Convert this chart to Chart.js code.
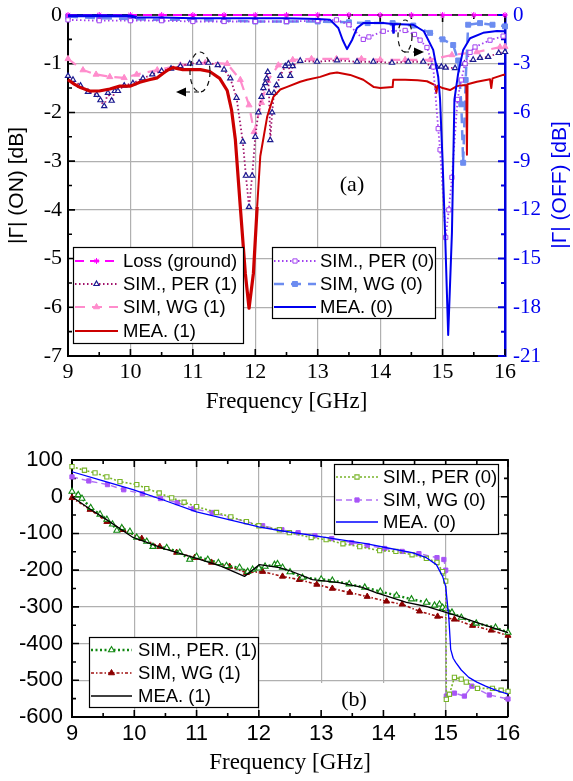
<!DOCTYPE html>
<html><head><meta charset="utf-8">
<script src="https://cdn.jsdelivr.net/npm/chart.js@4.4.1/dist/chart.umd.min.js"></script>
<style>
html,body{margin:0;padding:0;background:#fff;width:573px;height:781px;overflow:hidden}
#ca{position:absolute;left:0;top:0}
#cb{position:absolute;left:0;top:420px}
</style></head><body>
<canvas id="ca" width="573" height="420"></canvas>
<canvas id="cb" width="573" height="361"></canvas>
<script>
// ---------------- Panel (a): |Gamma| in dB ----------------
const aLossX = [9,9.5,10,10.5,11,11.5,12,12.5,13,13.5,14,14.5,15,15.5,16];
const aLossY = [0,0,0,0,0,0,0,0,0,0,0,0,0,0,0];

const aPer1X = [9.0,9.08,9.2,9.32,9.46,9.52,9.58,9.64,9.7,9.75,9.8,9.9,10.04,10.2,10.35,10.5,10.65,10.8,10.95,11.1,11.25,11.4,11.5,11.6,11.7,11.8,11.85,11.9,11.95,12.0,12.05,12.1,12.13,12.16,12.18,12.2,12.22,12.24,12.27,12.3,12.34,12.4,12.48,12.53,12.56,12.6,12.72,12.99,13.31,13.63,13.89,14.19,14.45,14.69,14.83,14.9,14.98,15.05,15.2,15.35,15.49,15.6,15.73,15.9,16.0];
const aPer1Y = [-1.25,-1.33,-1.45,-1.58,-1.64,-1.75,-1.87,-1.6,-1.76,-1.56,-1.56,-1.45,-1.4,-1.3,-1.22,-1.15,-1.1,-1.05,-1.0,-0.98,-0.98,-1.03,-1.12,-1.3,-1.7,-2.6,-3.3,-3.94,-3.3,-2.5,-2.0,-1.68,-1.5,-1.4,-1.3,-1.17,-1.6,-2.57,-2.0,-1.6,-1.44,-1.25,-1.05,-1.0,-1.25,-1.05,-0.94,-0.96,-0.93,-0.96,-0.96,-0.98,-0.96,-0.96,-1.06,-1.06,-1.06,-1.08,-1.09,-1.0,-0.92,-0.88,-0.86,-0.78,-0.76];

const aWg1X = [9.0,9.24,9.45,9.67,9.9,10.1,10.43,10.8,11.2,11.55,11.76,11.9,11.98,12.1,12.2,12.37,12.6,12.9,13.3,13.7,14.0,14.4,14.8,15.15,15.55,15.92,16.0];
const aWg1Y = [-0.9,-1.13,-1.22,-1.27,-1.29,-1.22,-1.13,-1.03,-0.98,-1.0,-1.33,-1.85,-2.4,-1.8,-1.35,-1.03,-0.92,-0.9,-0.9,-0.9,-0.92,-0.92,-0.92,-0.82,-0.76,-0.66,-0.65];

const aMea1X = [9.0,9.1,9.2,9.35,9.5,9.67,9.83,10.0,10.15,10.3,10.43,10.52,10.6,10.68,10.84,11.0,11.12,11.27,11.43,11.55,11.62,11.68,11.76,11.84,11.9,11.97,12.03,12.08,12.19,12.29,12.4,12.5,12.72,12.83,13.04,13.2,13.31,13.52,13.73,13.9,14.0,14.2,14.21,14.4,14.6,14.75,14.88,14.9,14.92,15.0,15.12,15.23,15.33,15.38,15.39,15.4,15.55,15.76,15.78,15.8,15.97,16.0];
const aMea1Y = [-1.33,-1.42,-1.49,-1.56,-1.56,-1.52,-1.46,-1.46,-1.38,-1.33,-1.29,-1.2,-1.13,-1.08,-1.12,-1.12,-1.12,-1.16,-1.3,-1.55,-1.95,-2.55,-3.94,-5.3,-6.02,-5.3,-3.94,-2.9,-2.09,-1.68,-1.53,-1.48,-1.37,-1.33,-1.27,-1.2,-1.18,-1.23,-1.33,-1.48,-1.5,-1.48,-1.33,-1.33,-1.34,-1.36,-1.44,-1.6,-1.45,-1.5,-1.54,-1.46,-1.44,-1.44,-2.87,-1.42,-1.37,-1.32,-1.5,-1.3,-1.23,-1.22];

const aPer0X = [9.0,9.5,10.0,10.5,11.0,11.5,12.0,12.5,13.0,13.3,13.5,13.73,13.82,14.05,14.4,14.55,14.64,14.75,14.85,14.93,14.96,15.05,15.1,15.15,15.24,15.3,15.36,15.44,15.52,15.76,15.97];
const aPer0Y = [-0.3,-0.35,-0.35,-0.35,-0.4,-0.4,-0.4,-0.4,-0.35,-0.3,-0.6,-1.5,-1.35,-1.0,-0.95,-1.2,-1.55,-2.0,-3.2,-7.0,-8.3,-13.7,-12.0,-10.0,-5.2,-4.0,-3.0,-2.3,-1.97,-1.55,-1.3];

const aWg0X = [9.0,9.5,10.0,10.5,11.0,11.5,12.0,12.5,13.0,13.5,13.8,14.2,14.53,14.8,15.0,15.17,15.25,15.3,15.33,15.37,15.41,15.6,15.8,16.0];
const aWg0Y = [-0.1,-0.2,-0.25,-0.3,-0.3,-0.35,-0.4,-0.4,-0.4,-0.45,-0.5,-0.5,-0.65,-1.1,-1.5,-1.85,-2.8,-5.5,-9.1,-4.0,-0.6,-0.5,-0.6,-0.7];

const aMea0X = [9.0,9.5,10.0,10.1,10.5,11.0,11.5,12.0,12.5,13.0,13.2,13.33,13.4,13.47,13.55,13.63,13.73,14.05,14.2,14.21,14.22,14.53,14.7,14.85,14.93,14.96,15.0,15.04,15.09,15.15,15.19,15.25,15.33,15.44,15.65,15.87,16.0];
const aMea0Y = [-0.05,-0.05,-0.06,-0.15,-0.15,-0.2,-0.2,-0.2,-0.2,-0.25,-0.3,-0.8,-1.54,-2.1,-1.54,-0.8,-0.5,-0.5,-0.55,-1.1,-0.55,-0.6,-1.0,-2.15,-3.8,-5.2,-9.0,-13.4,-19.7,-13.4,-5.2,-3.6,-2.15,-1.43,-1.1,-0.99,-1.0];

// ---------------- Panel (b): phase in degrees ----------------
const bPer0X = [9.0,9.2,9.37,9.56,9.77,10.04,10.2,10.4,10.6,10.8,11.0,11.32,11.55,11.8,12.0,12.33,12.49,12.84,13.08,13.35,13.62,13.94,14.2,14.46,14.69,14.86,14.95,15.0,15.01,15.06,15.14,15.25,15.33,15.51,15.75,15.89,16.0];
const bPer0Y = [82,72,65,54,41,33,22,10,-3,-15,-27,-43,-55,-68,-79,-90,-98,-111,-117,-128,-136,-147,-149,-158,-168,-179,-204,-230,-552,-538,-492,-497,-505,-522,-522,-527,-530];

const bWg0X = [9.0,9.27,9.57,9.83,10.13,10.42,10.69,10.95,11.25,11.54,11.8,12.06,12.37,12.63,12.9,13.17,13.49,13.74,14.02,14.3,14.57,14.86,14.97,15.0,15.01,15.14,15.3,15.42,15.7,16.0];
const bWg0Y = [54,43,33,19,8,-5,-16,-33,-43,-57,-68,-79,-90,-98,-106,-114,-125,-133,-141,-149,-155,-166,-171,-200,-543,-535,-543,-516,-540,-551];

const bMea0X = [9.0,9.5,9.98,10.5,11.0,11.5,12.0,12.33,12.8,13.3,13.72,14.05,14.46,14.69,14.85,14.95,15.0,15.05,15.08,15.12,15.16,15.25,15.37,15.5,15.64,15.8,16.0];
const bMea0Y = [68,43,19,-11,-41,-62,-82,-92,-104,-117,-128,-139,-152,-166,-185,-217,-245,-330,-416,-440,-451,-472,-492,-505,-516,-527,-538];

const bPer1X = [9.0,9.1,9.16,9.3,9.45,9.56,9.65,9.72,9.8,9.93,10.04,10.2,10.3,10.52,10.73,10.89,11.0,11.18,11.35,11.48,11.69,11.82,11.9,12.0,12.1,12.25,12.3,12.38,12.5,12.7,13.0,13.18,13.45,13.7,13.95,14.21,14.45,14.69,14.82,14.9,14.95,15.0,15.1,15.25,15.49,15.8,16.0];
const bPer1Y = [14,5,-5,-30,-48,-62,-75,-92,-85,-95,-111,-122,-136,-139,-152,-171,-163,-171,-180,-188,-193,-204,-198,-195,-190,-185,-183,-193,-205,-220,-225,-228,-238,-247,-258,-269,-279,-288,-296,-293,-302,-305,-315,-329,-345,-356,-370];

const bWg1X = [9.0,9.29,9.56,9.82,10.12,10.41,10.68,10.97,11.24,11.53,11.8,12.06,12.38,12.65,12.93,13.18,13.46,13.74,14.05,14.3,14.58,14.87,15.14,15.43,15.73,16.0];
const bWg1Y = [-3,-35,-68,-90,-114,-136,-152,-166,-179,-190,-207,-204,-217,-226,-239,-250,-261,-272,-285,-293,-312,-326,-334,-351,-364,-378];

const bMea1X = [9.0,9.3,9.56,9.98,10.5,11.0,11.4,11.77,12.01,12.33,12.49,12.86,13.29,13.66,13.88,14.37,14.69,14.95,15.2,15.49,16.0];
const bMea1Y = [0,-35,-63,-111,-143,-168,-190,-217,-185,-193,-201,-226,-234,-247,-261,-288,-299,-312,-325,-342,-370];

const labelsA = ['Loss (ground)','SIM., PER (1)','SIM, WG (1)','MEA. (1)','SIM., PER (0)','SIM, WG (0)','MEA. (0)'];
const labelsB = ['SIM., PER (0)','SIM, WG (0)','MEA. (0)','SIM., PER. (1)','SIM, WG (1)','MEA. (1)'];

function pts(xs, ys){ return xs.map((x,i)=>({x:x,y:ys[i]})); }

const SERIF = "'Liberation Serif', 'Times New Roman', serif";
const SANS = "'Liberation Sans', Arial, sans-serif";

function noPad(s){ s.paddingTop=0; s.paddingBottom=0; s.paddingLeft=0; s.paddingRight=0; }

// frame + inward ticks
function inwardTicks(ctx, scale, side, area, color, lw, major, minor){
  const vals = scale.ticks.map(t=>t.value);
  const all = [];
  vals.forEach(v=>all.push([v,major]));
  for(let i=0;i<vals.length-1;i++) all.push([(vals[i]+vals[i+1])/2, minor]);
  ctx.save(); ctx.strokeStyle=color; ctx.lineWidth=lw; ctx.beginPath();
  all.forEach(([v,len])=>{
    const p = scale.getPixelForValue(v);
    if(side==='bottom'){ctx.moveTo(p,area.bottom);ctx.lineTo(p,area.bottom-len);}
    if(side==='top'){ctx.moveTo(p,area.top);ctx.lineTo(p,area.top+len);}
    if(side==='left'){ctx.moveTo(area.left,p);ctx.lineTo(area.left+len,p);}
    if(side==='right'){ctx.moveTo(area.right,p);ctx.lineTo(area.right-len,p);}
  });
  ctx.stroke(); ctx.restore();
}

function drawLegendBox(chart, box){
  const ctx = chart.ctx;
  ctx.save();
  ctx.fillStyle='#fff'; ctx.fillRect(box.x,box.y,box.w,box.h);
  ctx.strokeStyle='#000'; ctx.lineWidth=1.2; ctx.setLineDash([]);
  ctx.strokeRect(box.x+0.5,box.y+0.5,box.w,box.h);
  box.items.forEach((di,k)=>{
    const ds = chart.data.datasets[di];
    const y = box.rows[k];
    ctx.save();
    ctx.strokeStyle = ds.borderColor; ctx.lineWidth = Math.min(ds.borderWidth,2.5);
    ctx.setLineDash(ds.borderDash||[]);
    ctx.beginPath(); ctx.moveTo(box.l0,y); ctx.lineTo(box.l1,y); ctx.stroke();
    ctx.setLineDash([]);
    if(ds.pointRadius>0){
      ctx.fillStyle = ds.pointBackgroundColor; ctx.strokeStyle = ds.pointBorderColor; ctx.lineWidth = ds.pointBorderWidth||1;
      Chart.helpers.drawPoint(ctx,{pointStyle:ds.pointStyle,radius:ds.pointRadius,rotation:0,borderWidth:ds.pointBorderWidth||1},(box.l0+box.l1)/2,y);
    }
    ctx.restore();
    ctx.fillStyle='#000'; ctx.font=box.font; ctx.textBaseline='middle'; ctx.textAlign='left';
    ctx.fillText(ds.label, box.tx, y+1);
  });
  ctx.restore();
}

function ds(label, xs, ys, o){
  return Object.assign({label:label, data:pts(xs,ys), borderColor:'#000', borderWidth:1.5, pointRadius:0, tension:0, fill:false, pointHitRadius:0, borderJoinStyle:'round', clip:6}, o);
}

// ---------------- Chart (a) ----------------
const plugA = {
  id:'plugA',
  beforeDatasetsDraw(chart){
    const {ctx, chartArea:a, scales} = chart;
    ctx.save(); ctx.strokeStyle='#000'; ctx.lineWidth=1.5;
    ctx.beginPath(); ctx.moveTo(a.left,a.top); ctx.lineTo(a.right,a.top); ctx.stroke(); ctx.restore();
    inwardTicks(ctx, scales.x, 'bottom', a, '#000', 1.6, 7, 4);
    inwardTicks(ctx, scales.x, 'top', a, '#000', 1.6, 7, 4);
    inwardTicks(ctx, scales.y, 'left', a, '#000', 1.6, 7, 4);
    inwardTicks(ctx, scales.y2, 'right', a, '#0000dd', 2, 7, 4);
  },
  afterDatasetsDraw(chart){
    const ctx = chart.ctx;
    ctx.save();
    ctx.strokeStyle='#111'; ctx.lineWidth=1.2; ctx.setLineDash([5,4]);
    ctx.beginPath(); ctx.ellipse(200,72,10,20,0,0,Math.PI*2); ctx.stroke();
    ctx.beginPath(); ctx.moveTo(199,92); ctx.lineTo(184,92); ctx.stroke();
    ctx.beginPath(); ctx.ellipse(405,36,7,16,0,0,Math.PI*2); ctx.stroke();
    ctx.beginPath(); ctx.moveTo(404,52); ctx.lineTo(416,52); ctx.stroke();
    ctx.setLineDash([]); ctx.fillStyle='#000';
    ctx.beginPath(); ctx.moveTo(176,92); ctx.lineTo(186,87.5); ctx.lineTo(186,96.5); ctx.closePath(); ctx.fill();
    ctx.beginPath(); ctx.moveTo(424,52); ctx.lineTo(414,47.5); ctx.lineTo(414,56.5); ctx.closePath(); ctx.fill();
    // panel label
    ctx.font = '22px '+SERIF; ctx.textAlign='center'; ctx.textBaseline='middle';
    ctx.fillText('(a)', 352, 185);
    ctx.restore();
    drawLegendBox(chart,{x:73,y:247,w:170,h:96,rows:[261,284,307,331],l0:75,l1:118,tx:123,font:'18.5px '+SANS,items:[0,1,2,3]});
    drawLegendBox(chart,{x:272,y:247,w:163,h:71,rows:[261,284,307],l0:274,l1:316,tx:320,font:'18.5px '+SANS,items:[4,5,6]});
    // right axis title (reads bottom to top)
    ctx.save();
    ctx.translate(560,185); ctx.rotate(-Math.PI/2);
    ctx.font='21px '+SANS; ctx.fillStyle='#0000ee'; ctx.textAlign='center'; ctx.textBaseline='middle';
    ctx.fillText('|\u0393| (OFF) [dB]',0,0);
    ctx.restore();
  }
};

new Chart(document.getElementById('ca'), {
  type:'line',
  data:{datasets:[
    ds(labelsA[0], aLossX, aLossY, {yAxisID:'y', borderColor:'#ff00ff', borderWidth:2, borderDash:[9,6], pointRadius:3, pointStyle:'star', pointBorderColor:'#ff00ff', pointBackgroundColor:'#ff00ff', pointBorderWidth:1, order:1}),
    ds(labelsA[1], aPer1X, aPer1Y, {yAxisID:'y', borderColor:'#a0106a', borderWidth:1.8, borderDash:[1.5,2.5], pointRadius:3, pointStyle:'triangle', pointBorderColor:'#1a1a90', pointBackgroundColor:'#ffffff', pointBorderWidth:1.2, order:5}),
    ds(labelsA[2], aWg1X, aWg1Y, {yAxisID:'y', borderColor:'#ff8ccc', borderWidth:2.2, borderDash:[10,7], pointRadius:3.5, pointStyle:'triangle', pointBorderColor:'#ff8ccc', pointBackgroundColor:'#ff8ccc', pointBorderWidth:1, order:6}),
    ds(labelsA[3], aMea1X, aMea1Y, {yAxisID:'y', borderColor:'#cc0000', borderWidth:2, segment:{borderWidth:c=>c.p0.parsed.x<11.98?3.2:2}, order:3}),
    ds(labelsA[4], aPer0X, aPer0Y, {yAxisID:'y2', borderColor:'#a040f0', borderWidth:1.8, borderDash:[1.5,2.5], pointRadius:3, pointStyle:'rect', pointBorderColor:'#a040f0', pointBackgroundColor:'#ffffff', pointBorderWidth:1, order:2}),
    ds(labelsA[5], aWg0X, aWg0Y, {yAxisID:'y2', borderColor:'#6c8cf0', borderWidth:2.5, borderDash:[10,7], pointRadius:3.5, pointStyle:'rect', pointBorderColor:'#6c8cf0', pointBackgroundColor:'#6c8cf0', pointBorderWidth:1, order:4}),
    ds(labelsA[6], aMea0X, aMea0Y, {yAxisID:'y2', borderColor:'#0000ee', borderWidth:2, segment:{borderWidth:c=>c.p0.parsed.x<10.05?3:2}, order:0})
  ]},
  options:{
    responsive:false, animation:false, devicePixelRatio:1, events:[],
    layout:{padding:{top:15,left:0,right:0,bottom:0}},
    plugins:{legend:{display:false}, tooltip:{enabled:false}},
    scales:{
      x:{type:'linear', min:9, max:16, ticks:{stepSize:1, font:{family:SERIF,size:22}, color:'#000', padding:3, maxRotation:0},
         grid:{color:'#b0b0b0', lineWidth:1.2, drawTicks:false}, border:{color:'#000', width:2},
         title:{display:true, text:'Frequency [GHz]', font:{family:SERIF,size:23}, color:'#000', padding:{top:0,bottom:4}},
         afterFit:s=>{s.height=64; noPad(s);}},
      y:{type:'linear', position:'left', min:-7, max:0, ticks:{stepSize:1, font:{family:SERIF,size:22}, color:'#000', padding:6},
         grid:{color:'#b0b0b0', lineWidth:1.2, drawTicks:false}, border:{color:'#000', width:2},
         title:{display:true, text:'|\u0393| (ON) [dB]', font:{family:SANS,size:21}, color:'#000', padding:{top:5,bottom:0}},
         afterFit:s=>{s.width=68; noPad(s);}},
      y2:{type:'linear', position:'right', min:-21, max:0, ticks:{stepSize:3, font:{family:SERIF,size:21}, color:'#0000ee', padding:8},
         grid:{drawOnChartArea:false, drawTicks:false}, border:{color:'#0000dd', width:2.5},
         afterFit:s=>{s.width=68; noPad(s);}}
    }
  },
  plugins:[plugA]
});

// ---------------- Chart (b) ----------------
const plugB = {
  id:'plugB',
  beforeDatasetsDraw(chart){
    const {ctx, chartArea:a, scales} = chart;
    ctx.save(); ctx.fillStyle='#fff'; ctx.fillRect(313,263,82,33); ctx.restore();
    ctx.save(); ctx.strokeStyle='#000'; ctx.lineWidth=1.8;
    ctx.beginPath(); ctx.moveTo(a.left,a.top); ctx.lineTo(a.right,a.top); ctx.lineTo(a.right,a.bottom); ctx.stroke(); ctx.restore();
    inwardTicks(ctx, scales.x, 'bottom', a, '#000', 1.6, 7, 4);
    inwardTicks(ctx, scales.x, 'top', a, '#000', 1.6, 7, 4);
    inwardTicks(ctx, scales.y, 'left', a, '#000', 1.6, 7, 4);
    inwardTicks(ctx, scales.y, 'right', a, '#000', 1.6, 7, 4);
  },
  afterDatasetsDraw(chart){
    const ctx = chart.ctx;
    ctx.save();
    ctx.font = '22px '+SERIF; ctx.textAlign='center'; ctx.textBaseline='middle'; ctx.fillStyle='#000';
    ctx.fillText('(b)', 354, 280);
    ctx.restore();
    drawLegendBox(chart,{x:334,y:44,w:164,h:70,rows:[57,80,102],l0:336,l1:378,tx:383,font:'18.5px '+SANS,items:[0,1,2]});
    drawLegendBox(chart,{x:89,y:217,w:169,h:70,rows:[230,253,276],l0:91,l1:132,tx:138,font:'18.5px '+SANS,items:[3,4,5]});
  }
};

new Chart(document.getElementById('cb'), {
  type:'line',
  data:{datasets:[
    ds(labelsB[0], bPer0X, bPer0Y, {borderColor:'#78b428', borderWidth:1.6, borderDash:[2,2], pointRadius:3, pointStyle:'rect', pointBorderColor:'#78b428', pointBackgroundColor:'#ffffff', pointBorderWidth:1.1, order:2}),
    ds(labelsB[1], bWg0X, bWg0Y, {borderColor:'#b070f5', borderWidth:1.4, borderDash:[6,4], pointRadius:3, pointStyle:'rect', pointBorderColor:'#a855f7', pointBackgroundColor:'#a855f7', pointBorderWidth:1, order:3}),
    ds(labelsB[2], bMea0X, bMea0Y, {borderColor:'#0000ff', borderWidth:1.3, order:1}),
    ds(labelsB[3], bPer1X, bPer1Y, {borderColor:'#118811', borderWidth:2.4, borderDash:[2,2.5], pointRadius:3.5, pointStyle:'triangle', pointBorderColor:'#118811', pointBackgroundColor:'#ffffff', pointBorderWidth:1.1, order:4}),
    ds(labelsB[4], bWg1X, bWg1Y, {borderColor:'#a01010', borderWidth:1.6, borderDash:[3,2,1.5,2], pointRadius:3.5, pointStyle:'triangle', pointBorderColor:'#8b0000', pointBackgroundColor:'#8b0000', pointBorderWidth:1, order:5}),
    ds(labelsB[5], bMea1X, bMea1Y, {borderColor:'#000000', borderWidth:1.3, order:0})
  ]},
  options:{
    responsive:false, animation:false, devicePixelRatio:1, events:[],
    layout:{padding:{top:40,left:0,right:65,bottom:0}},
    plugins:{legend:{display:false}, tooltip:{enabled:false}},
    scales:{
      x:{type:'linear', min:9, max:16, ticks:{stepSize:1, font:{family:SANS,size:22}, color:'#000', padding:4, maxRotation:0},
         grid:{color:'#b0b0b0', lineWidth:1.2, drawTicks:false}, border:{color:'#000', width:2},
         title:{display:true, text:'Frequency [GHz]', font:{family:SERIF,size:23}, color:'#000', padding:{top:0,bottom:4}},
         afterFit:s=>{s.height=64; noPad(s);}},
      y:{type:'linear', position:'left', min:-600, max:100, ticks:{stepSize:100, font:{family:SANS,size:22}, color:'#000', padding:9},
         grid:{color:'#b0b0b0', lineWidth:1.2, drawTicks:false}, border:{color:'#000', width:2},
         afterFit:s=>{s.width=72; noPad(s);}}
    }
  },
  plugins:[plugB]
});
</script></body></html>
